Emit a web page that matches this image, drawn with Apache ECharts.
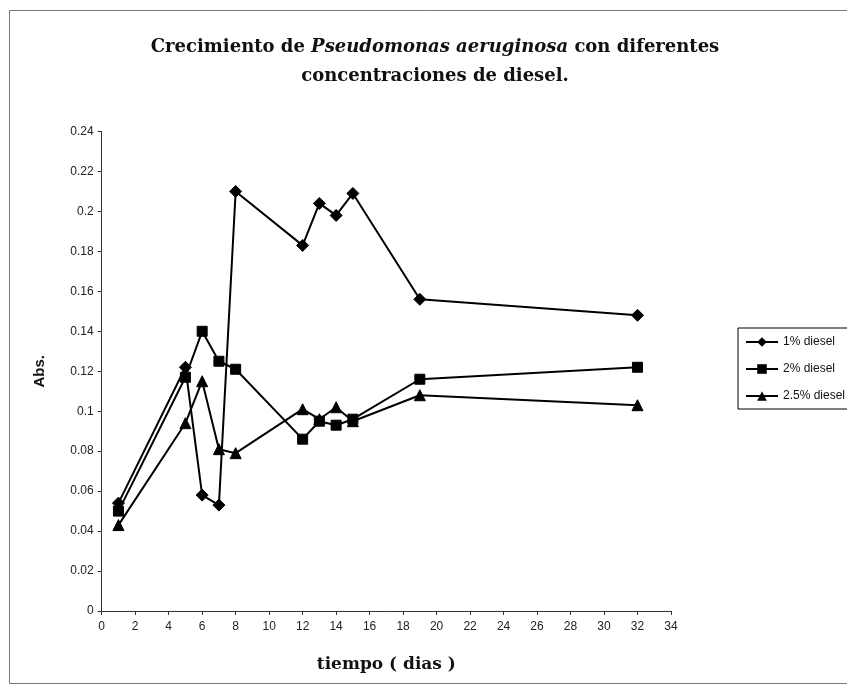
<!DOCTYPE html>
<html>
<head>
<meta charset="utf-8">
<script src="https://cdn.jsdelivr.net/npm/echarts@6/dist/echarts.min.js"></script>
<style>
  html, body { margin: 0; padding: 0; background: #fff; }
  #chart { width: 847px; height: 689px; }
</style>
</head>
<body>
<div id="chart"></div>
<script>
// dias de muestreo
const days = [1, 5, 6, 7, 8, 12, 13, 14, 15, 19, 32];
const diesel1 = [0.054, 0.122, 0.058, 0.053, 0.210, 0.183, 0.204, 0.198, 0.209, 0.156, 0.148];
const diesel2 = [0.050, 0.117, 0.140, 0.125, 0.121, 0.086, 0.095, 0.093, 0.096, 0.116, 0.122];
const diesel25 = [0.043, 0.094, 0.115, 0.081, 0.079, 0.101, 0.096, 0.102, 0.095, 0.108, 0.103];
const seriesNames = ['1% diesel', '2% diesel', '2.5% diesel'];

const toPairs = vals => days.map((d, i) => [d, vals[i]]);
const axisColor = '#333';
const labelFont = { fontFamily: 'Liberation Sans', fontSize: 12, color: '#222' };

function makeSeries(name, vals, symbol, size) {
  return {
    type: 'line',
    name: name,
    data: toPairs(vals),
    symbol: symbol,
    symbolSize: size,
    lineStyle: { color: '#000', width: 2 },
    itemStyle: { color: '#000', borderColor: '#000' },
    animation: false
  };
}

const myChart = echarts.init(document.getElementById('chart'));
myChart.setOption({
  backgroundColor: '#fff',
  title: {
    text: '{b|Crecimiento de }{i|Pseudomonas aeruginosa}{b| con diferentes}\n{b|concentraciones de diesel.}',
    left: 430,
    textAlign: 'center',
    top: 28,
    textStyle: {
      rich: {
        b: { fontFamily: 'DejaVu Serif', fontWeight: 'bold', fontSize: 18, color: '#111', lineHeight: 29 },
        i: { fontFamily: 'DejaVu Serif', fontStyle: 'italic', fontSize: 18, color: '#111', lineHeight: 29 }
      }
    }
  },
  graphic: [{
    type: 'rect',
    shape: { x: 9.5, y: 10.5, width: 845, height: 673 },
    style: { fill: 'none', stroke: '#777', lineWidth: 1 },
    silent: true
  }],
  legend: {
    data: seriesNames,
    orient: 'vertical',
    left: 738,
    top: 328,
    itemWidth: 32,
    itemHeight: 12,
    itemGap: 15,
    padding: [8, 8, 7, 7],
    borderColor: '#000',
    borderWidth: 1,
    textStyle: { fontFamily: 'Liberation Sans', fontSize: 12, color: '#111' }
  },
  grid: { left: 101.7, right: 176, top: 131.5, bottom: 78 },
  xAxis: {
    type: 'value',
    min: 0,
    max: 34,
    interval: 2,
    name: 'tiempo ( dias )',
    nameLocation: 'middle',
    nameGap: 45,
    nameTextStyle: { fontFamily: 'DejaVu Serif', fontWeight: 'bold', fontSize: 17, color: '#111' },
    axisLine: { lineStyle: { color: axisColor } },
    axisTick: { inside: false, length: 4, lineStyle: { color: axisColor } },
    axisLabel: Object.assign({ margin: 10 }, labelFont),
    splitLine: { show: false }
  },
  yAxis: {
    type: 'value',
    min: 0,
    max: 0.24,
    interval: 0.02,
    name: 'Abs.',
    nameLocation: 'middle',
    nameGap: 54,
    nameRotate: 90,
    nameTextStyle: { fontFamily: 'Liberation Sans', fontWeight: 'bold', fontSize: 15, color: '#111' },
    axisLine: { show: true, lineStyle: { color: axisColor } },
    axisTick: { show: true, length: 4, lineStyle: { color: axisColor } },
    axisLabel: Object.assign({ margin: 8 }, labelFont),
    splitLine: { show: false }
  },
  series: [
    makeSeries(seriesNames[0], diesel1, 'diamond', 12),
    makeSeries(seriesNames[1], diesel2, 'rect', 10),
    makeSeries(seriesNames[2], diesel25, 'triangle', 11)
  ]
});
</script>
</body>
</html>
